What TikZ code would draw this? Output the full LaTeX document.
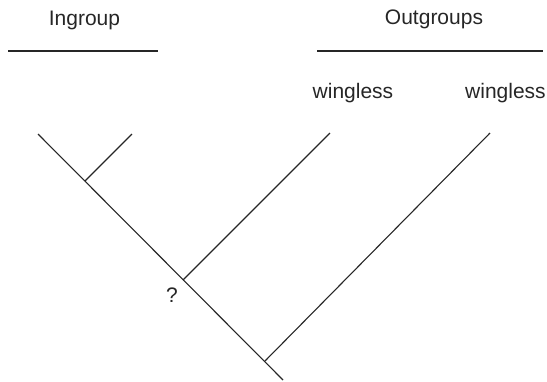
\documentclass[tikz,border=0pt]{standalone}
\usepackage{fontspec}
\setmainfont{Liberation Sans}
\begin{document}
\begin{tikzpicture}[x=1pt,y=-1pt,
  lbl/.style={anchor=base,inner sep=0pt,font=\fontsize{21}{25}\selectfont,text=black!85},
  branch/.style={line width=1.1pt,draw=black!85},
  rule/.style={line width=1.3pt,draw=black!85}]
\useasboundingbox (0,0) rectangle (547,381);
% headings
\node[lbl] (ingroup) at (84.5,25) {Ingroup};
\node[lbl] (outgroups) at (434,24) {Outgroups};
\coordinate (inL) at (8,51);
\coordinate (inR) at (158,51);
\coordinate (outL) at (317,51);
\coordinate (outR) at (543,51);
\draw[rule] (inL) -- (inR);
\draw[rule] (outL) -- (outR);
\node[lbl] (w1) at (353,98) {wingless};
\node[lbl] (w2) at (505.5,98) {wingless};
% tree
\coordinate (top) at (38,134);
\coordinate (root) at (283,380);
\coordinate (n1) at (85,181);
\coordinate (n2) at (183,280);
\coordinate (n3) at (265,361);
\coordinate (t1) at (132,134);
\coordinate (t2) at (330,133);
\coordinate (t3) at (490,133);
\draw[branch] (top) -- (root);
\draw[branch] (n1) -- (t1);
\draw[branch] (n2) -- (t2);
\draw[branch] (n3) -- (t3);
\node[lbl] (q) at (172,302) {?};
\end{tikzpicture}
\end{document}
